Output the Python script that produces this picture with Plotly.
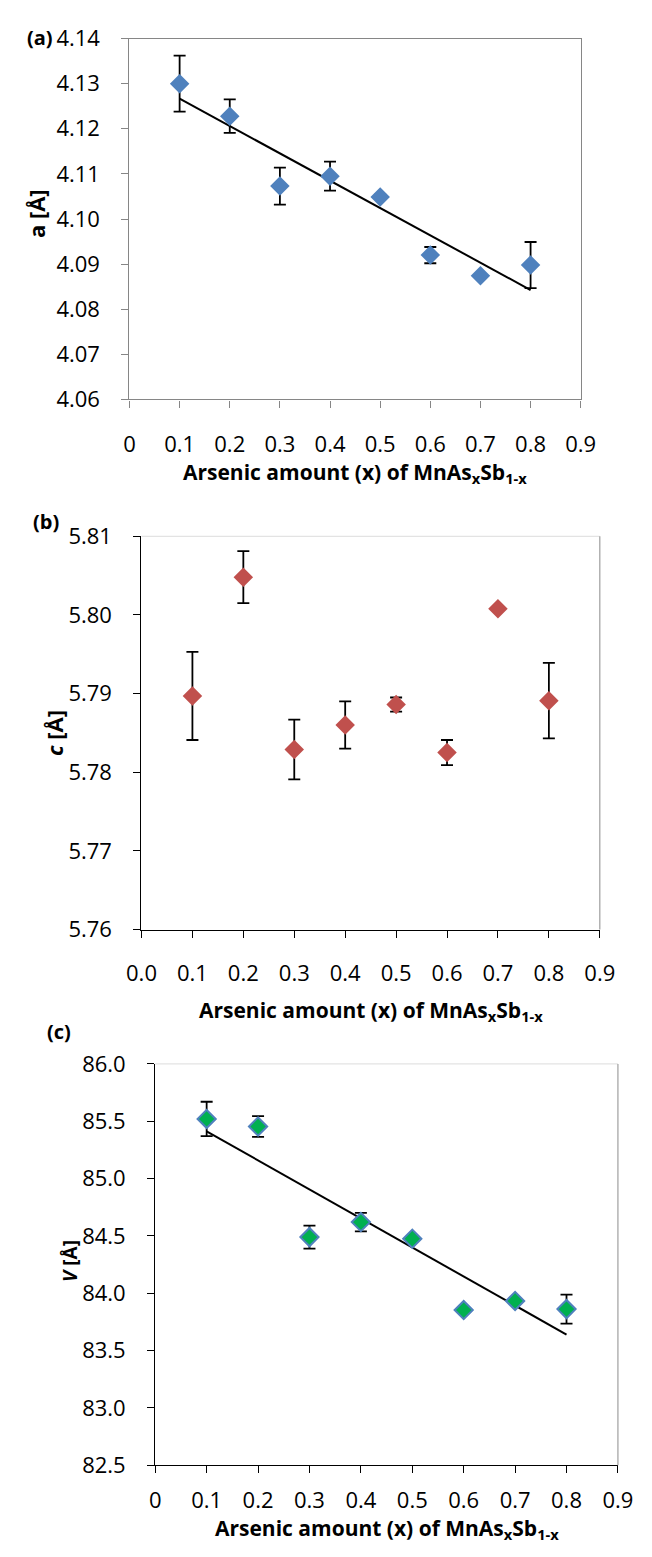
import numpy as np
import plotly.graph_objects as go

# ---- data ----
x_as = [0.1, 0.2, 0.3, 0.4, 0.5, 0.6, 0.7, 0.8]

a_vals = [4.1300, 4.1228, 4.1073, 4.1095, 4.1049, 4.0920, 4.0874, 4.0898]
a_err = [0.0062, 0.0037, 0.0041, 0.0032, 0.0005, 0.0018, 0.0, 0.0051]

c_vals = [5.7897, 5.8048, 5.7829, 5.7860, 5.7886, 5.7825, 5.8008, 5.7891]
c_err = [0.0056, 0.0033, 0.0038, 0.0030, 0.0009, 0.0016, 0.0, 0.0048]

v_vals = [85.520, 85.454, 84.489, 84.620, 84.475, 83.853, 83.932, 83.861]
v_err = [0.15, 0.09, 0.10, 0.08, 0.02, 0.02, 0.0, 0.127]

x_title = "Arsenic amount (x) of MnAs<sub>x</sub>Sb<sub>1-x</sub>"

W, H = 652, 1557
FONT = "Open Sans"


def px(v):
    return v / W


def py(v):
    return 1 - v / H


def trend(xs, ys):
    k, b = np.polyfit(xs, ys, 1)
    xe = [min(xs), max(xs)]
    return xe, [k * xe[0] + b, k * xe[1] + b]


fig = go.Figure()

err_style = dict(type="data", color="black", thickness=1.8, width=6)

# panel (a)
tx, ty = trend(x_as, a_vals)
fig.add_trace(go.Scatter(x=tx, y=ty, mode="lines", xaxis="x", yaxis="y",
                         line=dict(color="black", width=2), showlegend=False))
fig.add_trace(go.Scatter(
    x=x_as, y=a_vals, mode="markers", xaxis="x", yaxis="y",
    marker=dict(symbol="diamond", size=15, color="#4F81BD", line=dict(width=0)),
    error_y=dict(array=a_err, **err_style), showlegend=False))

# panel (b)
fig.add_trace(go.Scatter(
    x=x_as, y=c_vals, mode="markers", xaxis="x2", yaxis="y2",
    marker=dict(symbol="diamond", size=15, color="#C0504D", line=dict(width=0)),
    error_y=dict(array=c_err, **err_style), showlegend=False))

# panel (c)
tx, ty = trend(x_as, v_vals)
fig.add_trace(go.Scatter(x=tx, y=ty, mode="lines", xaxis="x3", yaxis="y3",
                         line=dict(color="black", width=2), showlegend=False))
fig.add_trace(go.Scatter(
    x=x_as, y=v_vals, mode="markers", xaxis="x3", yaxis="y3",
    marker=dict(symbol="diamond", size=14, color="#00B050",
                line=dict(width=2, color="#4F81BD")),
    error_y=dict(array=v_err, **err_style), showlegend=False))

tick_font = dict(family=FONT, size=22, color="black")

# panel geometry (pixels)
A = dict(l=120, r=593, t=23, b=391)
B = dict(l=132.6, r=613, t=530.5, b=931.5)
C = dict(l=147, r=632, t=1068.5, b=1477.6)


def xdom(g):
    return [px(g["l"]), px(g["r"])]


def ydom(g):
    return [py(g["b"]), py(g["t"])]


common_x = dict(range=[0, 0.9], tick0=0, dtick=0.1, ticks="outside", ticklen=7,
                showgrid=False, zeroline=False, showline=True, linewidth=1.3,
                tickfont=tick_font, tickwidth=1.3)
common_y = dict(ticks="outside", ticklen=7, showgrid=False, zeroline=False,
                showline=True, linewidth=1.3, tickfont=tick_font, tickwidth=1.3,
                ticklabelstandoff=17)

gray = "#868686"
fig.update_layout(
    width=W, height=H, margin=dict(l=0, r=0, t=0, b=0),
    plot_bgcolor="white", paper_bgcolor="white",
    font=dict(family=FONT, color="black"),
    xaxis=dict(domain=xdom(A), anchor="y", linecolor=gray, tickcolor=gray,
               mirror=True, ticklabelstandoff=18, **common_x),
    yaxis=dict(domain=ydom(A), anchor="x", range=[4.06, 4.14], dtick=0.01,
               tickformat=".2f", linecolor=gray, tickcolor=gray, mirror=True,
               **common_y),
    xaxis2=dict(domain=xdom(B), anchor="y2", linecolor="black", tickcolor="black",
                tickformat=".1f", ticklabelstandoff=17, **common_x),
    yaxis2=dict(domain=ydom(B), anchor="x2", range=[5.76, 5.81], dtick=0.01,
                tickformat=".2f", linecolor="black", tickcolor="black",
                **common_y),
    xaxis3=dict(domain=xdom(C), anchor="y3", linecolor="black", tickcolor="black",
                ticklabelstandoff=8, **common_x),
    yaxis3=dict(domain=ydom(C), anchor="x3", range=[82.5, 86.0], dtick=0.5,
                tickformat=".1f", linecolor="black", tickcolor="black",
                **common_y),
)

# light top / right borders for (b) and (c)
for g in (B, C):
    fig.add_shape(type="line", xref="paper", yref="paper",
                  x0=px(g["l"]), x1=px(g["r"]), y0=py(g["t"]), y1=py(g["t"]),
                  line=dict(color="#E3E3E3", width=1.3))
    fig.add_shape(type="line", xref="paper", yref="paper",
                  x0=px(g["r"]), x1=px(g["r"]), y0=py(g["t"]), y1=py(g["b"]),
                  line=dict(color="#A6A6A6", width=1.3))


def ann(text, x, y, size, angle=0):
    fig.add_annotation(text=text, x=px(x), y=py(y), xref="paper", yref="paper",
                       showarrow=False, textangle=angle, xanchor="center",
                       yanchor="middle",
                       font=dict(family=FONT, size=size, color="black", weight="bold"))


ann("(a)", 26, 22, 20)
ann("(b)", 33, 515, 20)
ann("(c)", 46, 1035, 20)

ann("a [Å]", 22, 201, 22, -90)
ann("<i>c</i> [Å]", 41, 731, 22, -90)
ann("<i>V</i> [Å]", 57, 1269, 19, -90)

ann(x_title, (A["l"] + A["r"]) / 2, 466, 21)
ann(x_title, (B["l"] + B["r"]) / 2, 1015, 21)
ann(x_title, (C["l"] + C["r"]) / 2, 1543, 21)

fig.write_html("out.html",
               config={"displayModeBar": False},
               post_script="document.body.style.margin='0px';"
                           "document.body.style.overflow='hidden';")
